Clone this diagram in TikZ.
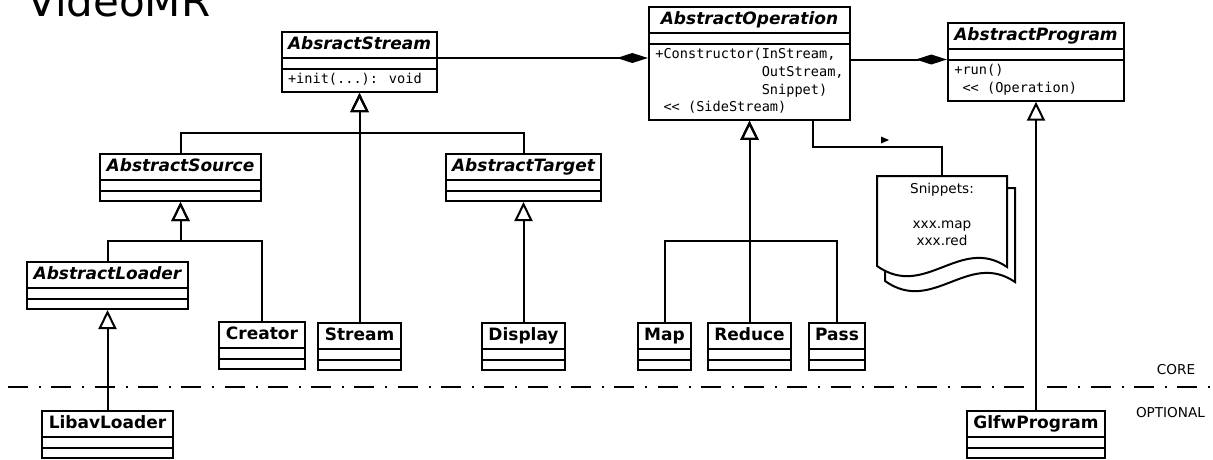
\documentclass[tikz,border=0pt]{standalone}
\usepackage{fontspec}
\setmainfont{DejaVu Sans}
\newfontfamily\memberfont{DejaVu Sans Mono}
\usetikzlibrary{arrows.meta,shapes.multipart}
\newcommand{\cname}[1]{\rule[-6pt]{0pt}{20pt}#1}
\newcommand{\cempty}{\rule{0pt}{4.5pt}}
\newcommand{\cops}[1]{{\normalfont\memberfont\fontsize{13.6}{17.6}\selectfont\begin{tabular}{@{}l@{}}#1\end{tabular}}}
\tikzset{
cls/.style={rectangle split,rectangle split parts=3,rectangle split part align={center,left,left},
  draw,fill=white,line width=2pt,inner xsep=6.5pt,inner ysep=2pt,anchor=north,
  font=\fontsize{17}{20}\selectfont\bfseries},
abs/.style={cls,font=\fontsize{17}{20}\selectfont\bfseries\itshape},
gen/.style={line width=2pt,-{Triangle[open,length=19pt,width=18pt]}},
comp/.style={line width=2pt,-{Diamond[length=31pt,width=10pt]}},
tree/.style={to path={|- (\tikztotarget |- #1) -- (\tikztotarget)}}
}

\begin{document}
\begin{tikzpicture}[x=1pt,y=-1pt]
\useasboundingbox (0,0) rectangle (1213,459);
\node[anchor=base west,inner sep=0,font=\fontsize{42}{50}\selectfont] (title) at (27,16) {VideoMR};
% core / optional
\draw[line width=1.5pt,dash pattern=on 20pt off 11pt on 2pt off 10.3pt] (8,387) -- (1213,387);
\node[font=\fontsize{13.6}{16}\selectfont] (core) at (1176,370) {CORE};
\node[font=\fontsize{13.6}{16}\selectfont] (opt) at (1170.5,413) {OPTIONAL};
% abstract classes
\node[abs] (Stm) at (359.5,31) {\cname{AbsractStream}\nodepart{two}\cempty\nodepart{three}\cops{+init(...): void}};
\node[abs] (Op) at (749.5,6) {\cname{AbstractOperation}\nodepart{two}\cempty\nodepart{three}\cops{+Constructor(InStream,\\\phantom{+Constructor(}OutStream,\\\phantom{+Constructor(}Snippet)\\\ << (SideStream)}};
\node[abs] (Prog) at (1036,22) {\cname{AbstractProgram}\nodepart{two}\cempty\nodepart{three}\cops{+run()\\\ << (Operation)}};
\node[abs] (Src) at (180.5,153) {\cname{AbstractSource}\nodepart{two}\cempty\nodepart{three}\cempty};
\node[abs] (Tgt) at (523.5,153) {\cname{AbstractTarget}\nodepart{two}\cempty\nodepart{three}\cempty};
\node[abs] (Ldr) at (107.5,261) {\cname{AbstractLoader}\nodepart{two}\cempty\nodepart{three}\cempty};
% concrete classes
\node[cls] (Cre) at (262,321) {\cname{Creator}\nodepart{two}\cempty\nodepart{three}\cempty};
\node[cls] (Str) at (359.5,322) {\cname{Stream}\nodepart{two}\cempty\nodepart{three}\cempty};
\node[cls] (Dis) at (523.5,322) {\cname{Display}\nodepart{two}\cempty\nodepart{three}\cempty};
\node[cls] (Map) at (664.5,322) {\cname{Map}\nodepart{two}\cempty\nodepart{three}\cempty};
\node[cls] (Red) at (749.5,322) {\cname{Reduce}\nodepart{two}\cempty\nodepart{three}\cempty};
\node[cls] (Pas) at (837,322) {\cname{Pass}\nodepart{two}\cempty\nodepart{three}\cempty};
\node[cls] (Lib) at (107.5,410) {\cname{LibavLoader}\nodepart{two}\cempty\nodepart{three}\cempty};
\node[cls] (Glfw) at (1036,410) {\cname{GlfwProgram}\nodepart{two}\cempty\nodepart{three}\cempty};
% snippets note
\draw[line width=2pt,fill=white] (885,188) -- (1015,188) -- (1015,282) .. controls (968,250) and (933,315) .. (885,281) -- cycle;
\draw[line width=2pt,fill=white] (877,266) -- (877,176) -- (1007,176) -- (1007,267) .. controls (960,235) and (925,300) .. (877,266) -- cycle;
\node[anchor=north,align=center,inner xsep=0,inner ysep=7pt,font=\fontsize{13.6}{17.3}\selectfont] (snip) at (942,176) {Snippets:\\[17.3pt]xxx.map\\xxx.red};
\coordinate (j1) at (0,133);
\coordinate (j2) at (0,241);
\coordinate (nb) at (813,147);
\draw[line width=2pt] (nb |- Op.south) -- (nb) -| (snip.north);
\fill (881,136.5) -- (889,140) -- (881,143.5) -- cycle;
\path[gen]
(Src.north) edge[tree=j1] (Stm.south)
(Tgt.north) edge[tree=j1] (Stm.south)
(Str.north) edge (Stm.south)
(Ldr.north) edge[tree=j2] (Src.south)
(Cre.north) edge[tree=j2] (Src.south)
(Lib.north) edge (Ldr.south)
(Dis.north) edge (Tgt.south)
(Map.north) edge[tree=j2] (Op.south)
(Red.north) edge (Op.south)
(Pas.north) edge[tree=j2] (Op.south)
(Glfw.north) edge (Prog.south);
\path[comp]
(Stm.text split east) edge (Op.west |- Stm.text split east)
(Op.east |- Prog.two split west) edge (Prog.two split west);
\end{tikzpicture}
\end{document}
